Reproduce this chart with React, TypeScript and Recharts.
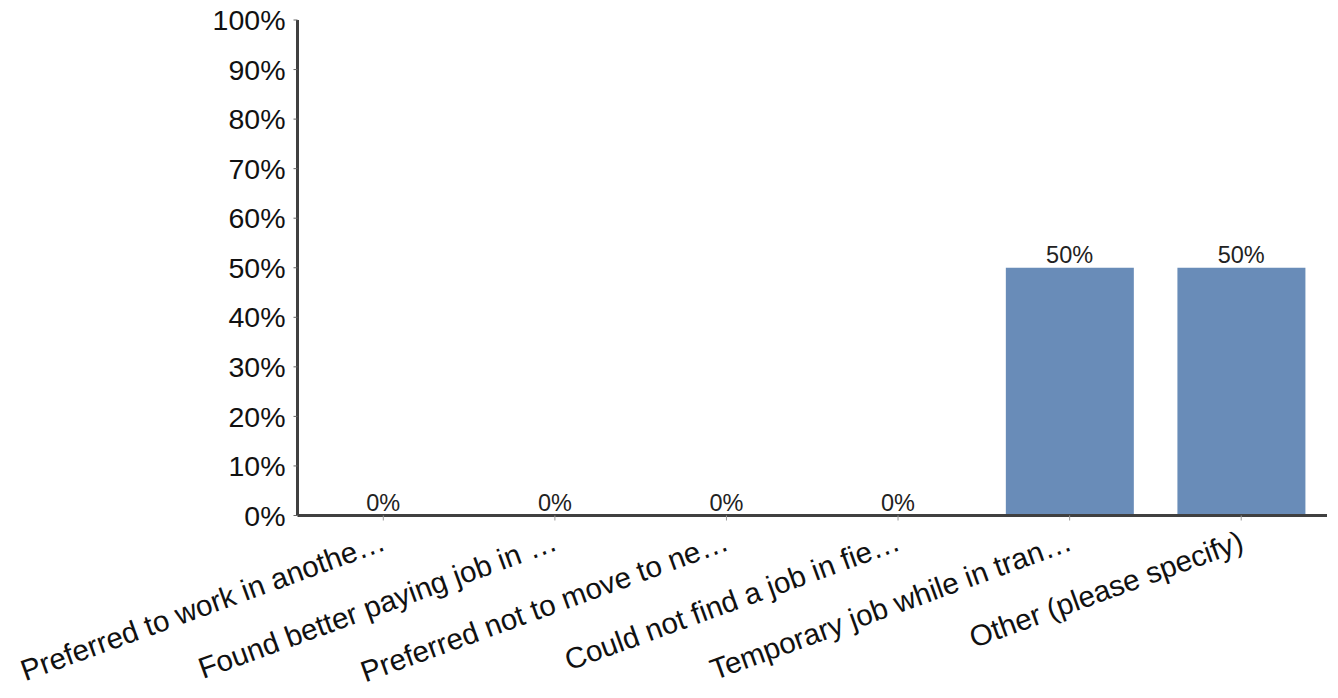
import React from "react";
import { ComposedChart, Bar, Line, XAxis, YAxis, LabelList } from "recharts";

const categories = [
  "Preferred to work in anothe…",
  "Found better paying job in …",
  "Preferred not to move to ne…",
  "Could not find a job in fie…",
  "Temporary job while in tran…",
  "Other (please specify)",
];
const values = [0, 0, 0, 0, 50, 50];
const yTicks = [0, 10, 20, 30, 40, 50, 60, 70, 80, 90, 100];

const data = categories.map((name, i) => ({ name, value: values[i] }));

const FONT = "'Liberation Sans', Arial, sans-serif";

const XTick = (props: any) => {
  const { x, y, payload } = props;
  return (
    <g transform={`translate(${x + 4},${y + 27})`}>
      <text
        x={0}
        y={0}
        textAnchor="end"
        transform="rotate(-20)"
        fontSize={29.5}
        fontFamily={FONT}
        fill="#111"
      >
        {payload.value}
      </text>
    </g>
  );
};

export default function App() {
  return (
    <div style={{ position: "absolute", left: 0, top: 0, background: "#fff" }}>
      <ComposedChart
        width={1338}
        height={698}
        data={data}
        margin={{ top: 20, right: 11, bottom: 32.5, left: 217.5 }}
        barSize={128}
      >
        <XAxis
          dataKey="name"
          height={150}
          interval={0}
          axisLine={{ stroke: "#404040", strokeWidth: 3 }}
          tickLine={{ stroke: "#999", strokeWidth: 1 }}
          tickSize={5}
          tick={<XTick />}
        />
        <YAxis
          width={80}
          domain={[0, 100]}
          ticks={yTicks}
          interval={0}
          tickFormatter={(v: number) => `${v}%`}
          axisLine={{ stroke: "#404040", strokeWidth: 3 }}
          tickLine={{ stroke: "#666", strokeWidth: 1 }}
          tickSize={4}
          tickMargin={8}
          tick={{ fontSize: 28.5, fontFamily: FONT, fill: "#111" }}
        />
        <Bar dataKey="value" fill="#698cb8" isAnimationActive={false} />
        <Line
          dataKey="value"
          stroke="none"
          dot={false}
          activeDot={false}
          legendType="none"
          isAnimationActive={false}
        >
          <LabelList
            dataKey="value"
            position="top"
            offset={5}
            formatter={(v: any) => `${v}%`}
            style={{ fontSize: 23.5, fontFamily: FONT, fill: "#222" }}
          />
        </Line>
      </ComposedChart>
    </div>
  );
}
